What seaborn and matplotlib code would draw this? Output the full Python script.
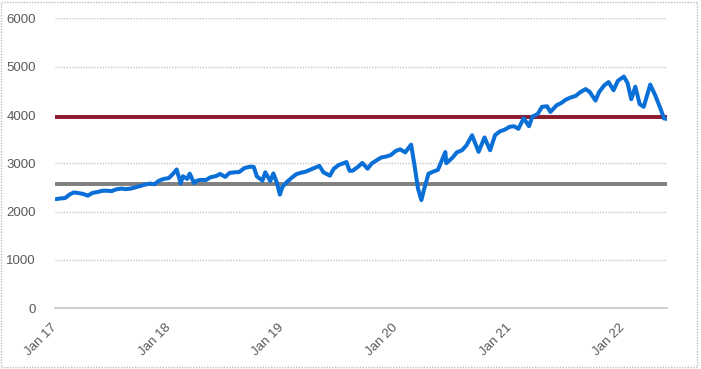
import pandas as pd
import matplotlib.pyplot as plt
import matplotlib.dates as mdates
from matplotlib.patches import Rectangle
import seaborn as sns

sns.set_theme(style="white")
plt.rcParams['font.family'] = ['Liberation Sans', 'DejaVu Sans']

dates = [
    "2017-01-03", "2017-01-15", "2017-02-01", "2017-02-15", "2017-03-01", "2017-03-15",
    "2017-04-01", "2017-04-15", "2017-05-01", "2017-05-15", "2017-06-01", "2017-06-15",
    "2017-07-01", "2017-07-15", "2017-08-01", "2017-08-15", "2017-09-01", "2017-09-15",
    "2017-10-01", "2017-10-15", "2017-11-01", "2017-11-15", "2017-12-01", "2017-12-15",
    "2018-01-01", "2018-01-15", "2018-01-26", "2018-02-08", "2018-02-15", "2018-03-01",
    "2018-03-09", "2018-03-23", "2018-04-01", "2018-04-15", "2018-05-01", "2018-05-15",
    "2018-06-01", "2018-06-15", "2018-07-01", "2018-07-15", "2018-08-01", "2018-08-15",
    "2018-09-01", "2018-09-20", "2018-10-01", "2018-10-11", "2018-10-29", "2018-11-07",
    "2018-11-23", "2018-12-03", "2018-12-14", "2018-12-24",
    "2019-01-01", "2019-01-15", "2019-02-01", "2019-02-15", "2019-03-01", "2019-03-15",
    "2019-04-01", "2019-04-15", "2019-04-30", "2019-05-13", "2019-06-03", "2019-06-15",
    "2019-07-01", "2019-07-26", "2019-08-05", "2019-08-15", "2019-09-01", "2019-09-15",
    "2019-10-02", "2019-10-15", "2019-11-01", "2019-11-15", "2019-12-01", "2019-12-15",
    "2020-01-01", "2020-01-15", "2020-01-31", "2020-02-19", "2020-03-01", "2020-03-12",
    "2020-03-23", "2020-04-01", "2020-04-15", "2020-05-01", "2020-05-15", "2020-06-08",
    "2020-06-11", "2020-07-01", "2020-07-15", "2020-08-01", "2020-08-15", "2020-09-02",
    "2020-09-23", "2020-10-12", "2020-10-30", "2020-11-15", "2020-12-01", "2020-12-15",
    "2021-01-01", "2021-01-15", "2021-01-29", "2021-02-15", "2021-03-04", "2021-03-15",
    "2021-04-01", "2021-04-15", "2021-05-01", "2021-05-12", "2021-06-01", "2021-06-15",
    "2021-07-01", "2021-07-15", "2021-08-01", "2021-08-15", "2021-09-02", "2021-09-15",
    "2021-10-04", "2021-10-15", "2021-11-01", "2021-11-15", "2021-12-01", "2021-12-15",
    "2022-01-03", "2022-01-15", "2022-01-27", "2022-02-09", "2022-02-23", "2022-03-08",
    "2022-03-29", "2022-04-15", "2022-05-01", "2022-05-12", "2022-05-20",
]
index_level = [
    2258, 2270, 2279, 2350, 2396, 2385, 2363, 2329, 2388, 2402, 2430, 2432,
    2423, 2459, 2476, 2464, 2476, 2500, 2529, 2557, 2579, 2565, 2642, 2675,
    2695, 2786, 2872, 2581, 2731, 2677, 2786, 2588, 2640, 2656, 2655, 2711,
    2734, 2779, 2718, 2801, 2813, 2818, 2901, 2930, 2924, 2728, 2641, 2813,
    2633, 2790, 2600, 2351,
    2510, 2610, 2706, 2775, 2803, 2822, 2867, 2905, 2946, 2812, 2744, 2886,
    2964, 3025, 2844, 2847, 2926, 3007, 2887, 2995, 3066, 3120, 3140, 3168,
    3257, 3289, 3225, 3386, 2954, 2480, 2237, 2470, 2783, 2830, 2863, 3232,
    3002, 3115, 3226, 3271, 3372, 3580, 3237, 3534, 3270, 3585, 3662, 3694,
    3756, 3768, 3714, 3934, 3768, 3968, 4020, 4170, 4181, 4063, 4202, 4246,
    4320, 4360, 4395, 4468, 4537, 4480, 4300, 4471, 4614, 4682, 4513, 4709,
    4796, 4662, 4326, 4587, 4225, 4170, 4631, 4392, 4132, 3930, 3920,
]
upper_level = 3955
lower_level = 2575
y_ticks = [0, 1000, 2000, 3000, 4000, 5000, 6000]
x_start, x_end = "2017-01-01", "2022-05-23"

df = pd.DataFrame({"date": pd.to_datetime(dates), "level": index_level})

fig = plt.figure(figsize=(7.01, 3.69), dpi=100)
ax = fig.add_axes([0.079, 0.165, 0.873, 0.785])

ax.axhline(lower_level, color="#7f7f7f", lw=2.8, zorder=2)
ax.axhline(upper_level, color="#8b1a2b", lw=2.8, zorder=2)
sns.lineplot(data=df, x="date", y="level", ax=ax, color="#0a6fd6", lw=2.9, zorder=3)

ax.set_xlim(pd.Timestamp(x_start), pd.Timestamp(x_end))
ax.set_ylim(0, 6000)
ax.set_yticks(y_ticks)
ax.set_yticklabels([str(v) for v in y_ticks])
ax.yaxis.grid(True, linestyle=(0, (1, 1)), color="#c8c8c8", lw=1)
ax.xaxis.grid(False)
ax.set_xlabel("")
ax.set_ylabel("")

ax.xaxis.set_major_locator(mdates.YearLocator())
ax.xaxis.set_major_formatter(mdates.DateFormatter("Jan %y"))
for s in ["top", "right", "left"]:
    ax.spines[s].set_visible(False)
ax.spines["bottom"].set_color("#c8c8c8")
ax.spines["bottom"].set_linestyle((0, (1, 1)))
ax.tick_params(axis="x", length=3, color="#c8c8c8", labelsize=9.5, labelcolor="#595959",
               rotation=45, pad=10)
ax.tick_params(axis="y", length=0, labelsize=9.5, labelcolor="#595959", pad=14)
for lab in ax.get_xticklabels():
    lab.set_ha("right")
    lab.set_va("center")
    lab.set_rotation_mode("anchor")

fig.patches.append(Rectangle((0.002, 0.005), 0.993, 0.99, transform=fig.transFigure,
                             fill=False, edgecolor="#bfbfbf", lw=1, linestyle=(0, (1, 1))))

plt.savefig("out.png", dpi=100)
